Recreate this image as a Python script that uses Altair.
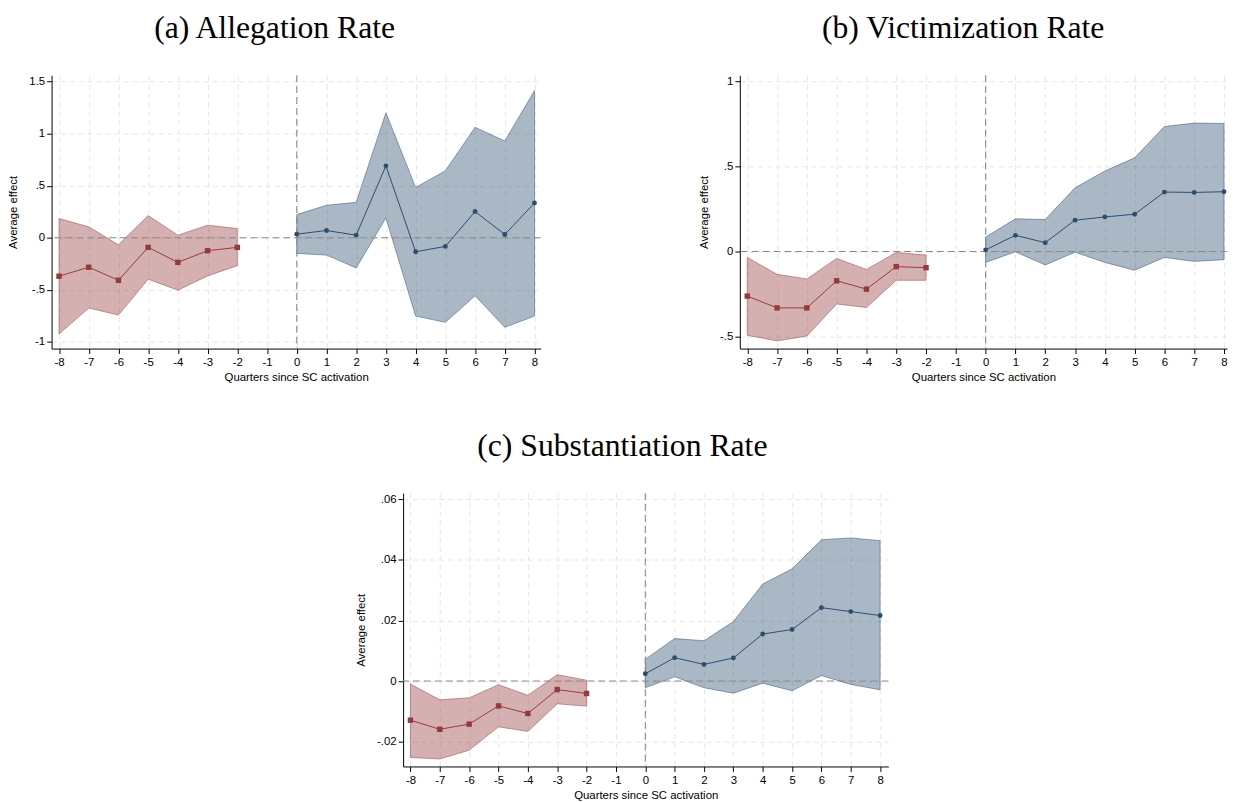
import altair as alt
import pandas as pd

# ---------------- data ----------------
quarters_pre = [-8, -7, -6, -5, -4, -3, -2]
quarters_post = [0, 1, 2, 3, 4, 5, 6, 7, 8]

# (a) Allegation Rate
a_est_pre = [-0.369, -0.283, -0.408, -0.092, -0.236, -0.124, -0.092]
a_hi_pre = [0.185, 0.105, -0.067, 0.213, 0.025, 0.121, 0.089]
a_lo_pre = [-0.924, -0.675, -0.742, -0.398, -0.503, -0.366, -0.268]
a_est_post = [0.035, 0.070, 0.025, 0.691, -0.134, -0.083, 0.252, 0.032, 0.334]
a_hi_post = [0.223, 0.312, 0.341, 1.201, 0.484, 0.643, 1.061, 0.930, 1.414]
a_lo_post = [-0.150, -0.166, -0.290, 0.191, -0.752, -0.812, -0.557, -0.860, -0.752]

# (b) Victimization Rate
b_est_pre = [-0.262, -0.331, -0.331, -0.172, -0.221, -0.089, -0.095]
b_hi_pre = [-0.035, -0.134, -0.161, -0.041, -0.105, -0.006, -0.021]
b_lo_pre = [-0.492, -0.525, -0.496, -0.308, -0.329, -0.169, -0.169]
b_est_post = [0.010, 0.095, 0.052, 0.184, 0.203, 0.219, 0.349, 0.347, 0.351]
b_hi_post = [0.085, 0.192, 0.188, 0.374, 0.473, 0.550, 0.734, 0.754, 0.752]
b_lo_post = [-0.064, -0.002, -0.079, -0.004, -0.064, -0.110, -0.035, -0.058, -0.048]

# (c) Substantiation Rate
c_est_pre = [-0.0129, -0.0159, -0.0142, -0.0082, -0.0107, -0.0028, -0.0041]
c_hi_pre = [-0.0010, -0.0062, -0.0055, -0.0012, -0.0047, 0.0021, 0.0003]
c_lo_pre = [-0.0252, -0.0257, -0.0228, -0.0151, -0.0166, -0.0075, -0.0083]
c_est_post = [0.0024, 0.0077, 0.0055, 0.0076, 0.0155, 0.0170, 0.0242, 0.0229, 0.0216]
c_hi_post = [0.0072, 0.0140, 0.0133, 0.0196, 0.0320, 0.0370, 0.0466, 0.0472, 0.0463]
c_lo_post = [-0.0022, 0.0014, -0.0022, -0.0040, -0.0007, -0.0032, 0.0018, -0.0011, -0.0029]

x_ticks = list(range(-8, 9))
a_y_ticks = [-1, -0.5, 0, 0.5, 1, 1.5]
b_y_ticks = [-0.5, 0, 0.5, 1]
c_y_ticks = [-0.02, 0, 0.02, 0.04, 0.06]

RED = "#953a3d"
BLUE = "#2b4d6f"
FONT = "Liberation Sans"

Y_LABEL = ("(datum.value < 0 ? '-' : '') + (abs(datum.value) < 1 && datum.value != 0 ? "
           "slice(format(abs(datum.value), '~g'), 1) : format(abs(datum.value), '~g'))")
X_LABEL = "(datum.value < 0 ? '-' : '') + format(abs(datum.value), 'd')"


def panel(title, est_pre, lo_pre, hi_pre, est_post, lo_post, hi_post,
          ydomain, yticks, width, xdomain):
    df = pd.concat([
        pd.DataFrame({"q": quarters_pre, "est": est_pre, "lo": lo_pre, "hi": hi_pre, "period": "pre"}),
        pd.DataFrame({"q": quarters_post, "est": est_post, "lo": lo_post, "hi": hi_post, "period": "post"}),
    ], ignore_index=True)

    xaxis = alt.Axis(values=x_ticks, labelExpr=X_LABEL, labelOverlap=False, tickCount=17,
                     title="Quarters since SC activation",
                     grid=True, gridDash=[5, 4], gridColor="#e6e6e6",
                     tickSize=5, labelPadding=3, titlePadding=4)
    yaxis = alt.Axis(values=yticks, labelExpr=Y_LABEL, labelOverlap=False,
                     title="Average effect",
                     grid=True, gridDash=[5, 4], gridColor="#e6e6e6",
                     tickSize=5, labelPadding=2, titlePadding=10)
    xscale = alt.Scale(domain=xdomain, nice=False, zero=False)
    yscale = alt.Scale(domain=ydomain, nice=False, zero=False)

    def X(f="q"):
        return alt.X(f + ":Q", scale=xscale, axis=xaxis)

    def Y(f):
        return alt.Y(f + ":Q", scale=yscale, axis=yaxis)

    base = alt.Chart(df)
    pre = base.transform_filter("datum.period == 'pre'")
    post = base.transform_filter("datum.period == 'post'")

    area_pre = pre.mark_area(
        color=RED, fillOpacity=0.4, stroke=RED, strokeOpacity=0.55, strokeWidth=0.9
    ).encode(x=X(), y=Y("lo"), y2="hi:Q")
    area_post = post.mark_area(
        color=BLUE, fillOpacity=0.4, stroke=BLUE, strokeOpacity=0.55, strokeWidth=0.9
    ).encode(x=X(), y=Y("lo"), y2="hi:Q")

    zero_h = alt.Chart(pd.DataFrame({"est": [0]})).mark_rule(
        color="#8a8a8a", strokeDash=[7, 4], strokeWidth=1.1).encode(y=Y("est"))
    zero_v = alt.Chart(pd.DataFrame({"q": [0]})).mark_rule(
        color="#8a8a8a", strokeDash=[7, 4], strokeWidth=1.1).encode(x=X())

    line_pre = pre.mark_line(color=RED, strokeWidth=1).encode(x=X(), y=Y("est"))
    line_post = post.mark_line(color=BLUE, strokeWidth=1).encode(x=X(), y=Y("est"))
    pts_pre = pre.mark_point(shape="square", filled=True, color=RED, size=30,
                             opacity=1).encode(x=X(), y=Y("est"))
    pts_post = post.mark_point(shape="circle", filled=True, color=BLUE, size=24,
                               opacity=1).encode(x=X(), y=Y("est"))

    return alt.layer(area_pre, area_post, zero_h, zero_v, line_pre, line_post, pts_pre, pts_post).properties(
        width=width, height=276,
        title=alt.TitleParams(text=title, font="Liberation Serif", fontSize=32,
                              fontWeight="normal", anchor="middle", frame="bounds",
                              offset=27, dy=-3, color="black"))


pa = panel("(a) Allegation Rate", a_est_pre, a_lo_pre, a_hi_pre, a_est_post, a_lo_post, a_hi_post,
           [-1.064, 1.561], a_y_ticks, 494, [-8.25, 8.21])
pb = panel("(b) Victimization Rate", b_est_pre, b_lo_pre, b_hi_pre, b_est_post, b_lo_post, b_hi_post,
           [-0.570, 1.035], b_y_ticks, 492, [-8.25, 8.10])
pc = panel("(c) Substantiation Rate", c_est_pre, c_lo_pre, c_hi_pre, c_est_post, c_lo_post, c_hi_post,
           [-0.02816, 0.06196], c_y_ticks, 490, [-8.25, 8.28])

spacer = alt.Chart(pd.DataFrame({"v": [0]})).mark_text(text="").encode(
    x=alt.value(0), y=alt.value(0)).properties(width=9, height=10)

top = alt.hconcat(pa, pb, spacing=158)
bottom = alt.hconcat(spacer, pc, spacing=298)
chart = alt.vconcat(top, bottom, spacing=47).properties(
    padding={"left": 0, "top": 0, "right": 0, "bottom": 0}
).configure_view(stroke=None).configure_axis(
    labelFont=FONT, titleFont=FONT, labelFontSize=11.5, titleFontSize=11.5,
    titleFontWeight="normal", labelColor="black", titleColor="black",
    domainColor="black", tickColor="black", domainWidth=1, tickWidth=1
).configure_axisX(labelOverlap=False)

chart.save("out.html", embed_options={"renderer": "svg", "actions": False})
